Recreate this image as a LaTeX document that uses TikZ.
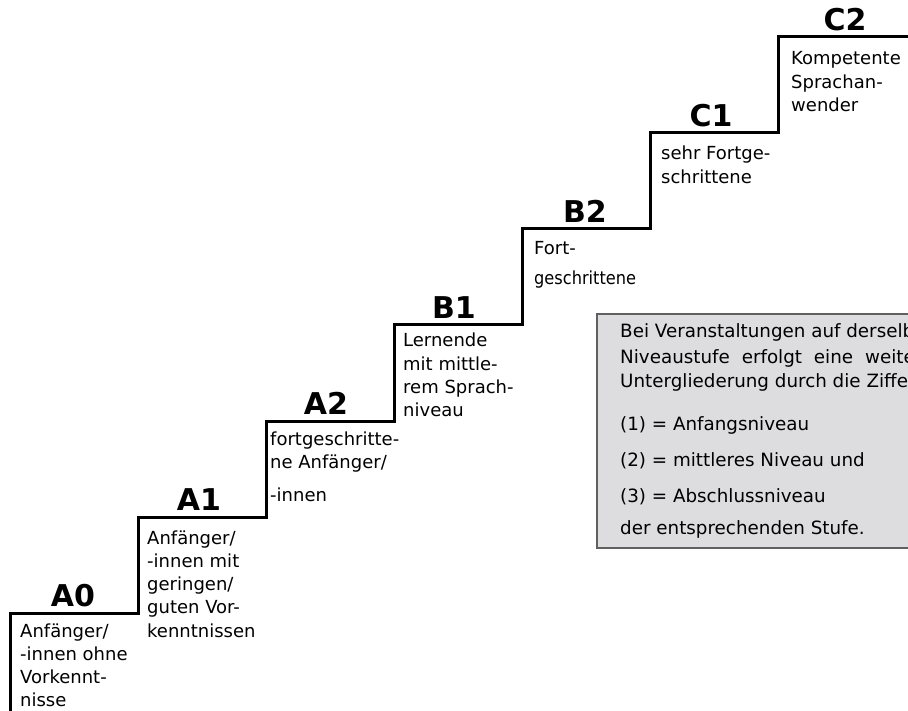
\documentclass[tikz,border=0pt]{standalone}
\usepackage{fontspec}
\usepackage{graphicx}
\setmainfont{DejaVu Sans}
\newcommand{\bodyfont}{\fontsize{18}{23.3}\selectfont}
\newcommand{\lvlfont}{\fontsize{30}{36}\selectfont\bfseries}
\newcommand{\stack}[1]{\begin{tabular}[t]{@{}l@{}}#1\end{tabular}}
\definecolor{boxfill}{RGB}{221,221,223}
\definecolor{boxline}{RGB}{96,96,96}
\tikzset{
  stair/.style={line width=3pt, line join=miter, black},
  lvl/.style={anchor=base, inner sep=0pt, font=\lvlfont},
  txt/.style={anchor=base west, inner sep=0pt, font=\bodyfont},
  infobox/.style={fill=boxfill, draw=boxline, line width=1.5pt}
}
\begin{document}
\begin{tikzpicture}[x=1pt,y=-1pt]
\useasboundingbox (0,0) rectangle (908,711);
\begin{scope}
\clip (0,0) rectangle (908,711);
% staircase
\coordinate (s0) at (10,715);
\coordinate (s1) at (10,613);
\coordinate (s2) at (138,613);
\coordinate (s3) at (138,517);
\coordinate (s4) at (266,517);
\coordinate (s5) at (266,421);
\coordinate (s6) at (394,421);
\coordinate (s7) at (394,325);
\coordinate (s8) at (522,325);
\coordinate (s9) at (522,229);
\coordinate (s10) at (650,229);
\coordinate (s11) at (650,133);
\coordinate (s12) at (778,133);
\coordinate (s13) at (778,37);
\coordinate (s14) at (915,37);
\draw[stair] (s0) -- (s1) -- (s2) -- (s3) -- (s4) -- (s5) -- (s6) -- (s7) -- (s8) -- (s9) -- (s10) -- (s11) -- (s12) -- (s13) -- (s14);
% level labels
\node[lvl] (A0) at (73,606.5) {A0};
\node[lvl] (A1) at (199,510.5) {A1};
\node[lvl] (A2) at (326,414.5) {A2};
\node[lvl] (B1) at (454,318.5) {B1};
\node[lvl] (B2) at (585,222.5) {B2};
\node[lvl] (C1) at (711,126.5) {C1};
\node[lvl] (C2) at (845,30.5) {C2};
% descriptions
\node[txt] (tA0) at (20,637) {\stack{Anfänger/\\-innen ohne\\Vorkennt-\\nisse}};
\node[txt] (tA1) at (147,544) {\stack{Anfänger/\\-innen mit\\geringen/\\guten Vor-\\kenntnissen}};
\node[txt] (tA2) at (270,445) {\stack{fortgeschritte-\\ne Anfänger/\\[10.2pt]-innen}};
\node[txt] (tB1) at (403,347) {\stack{Lernende\\mit mittle-\\rem Sprach-\\niveau}};
\node[txt] (tB2a) at (534,255) {Fort-};
\node[txt] (tB2b) at (534,285) {\scalebox{0.9}[1]{geschrittene}};
\node[txt] (tC1) at (661,160) {\stack{sehr Fortge-\\schrittene}};
\node[txt] (tC2) at (791,65) {\stack{Kompetente\\Sprachan-\\wender}};
% info box
\draw[infobox] (597,314) rectangle (940,548);
\node[txt, font=\fontsize{18.3}{25}\selectfont] (info) at (620,338) {\stack{Bei Veranstaltungen auf derselben\\
\makebox[313pt][s]{Niveaustufe erfolgt eine weitere}\\
Untergliederung durch die Ziffern\\[17.7pt]
(1) = Anfangsniveau\\[11pt]
(2) = mittleres Niveau und\\[11.3pt]
(3) = Abschlussniveau\\[7pt]
der entsprechenden Stufe.}};
\end{scope}
\end{tikzpicture}
\end{document}
